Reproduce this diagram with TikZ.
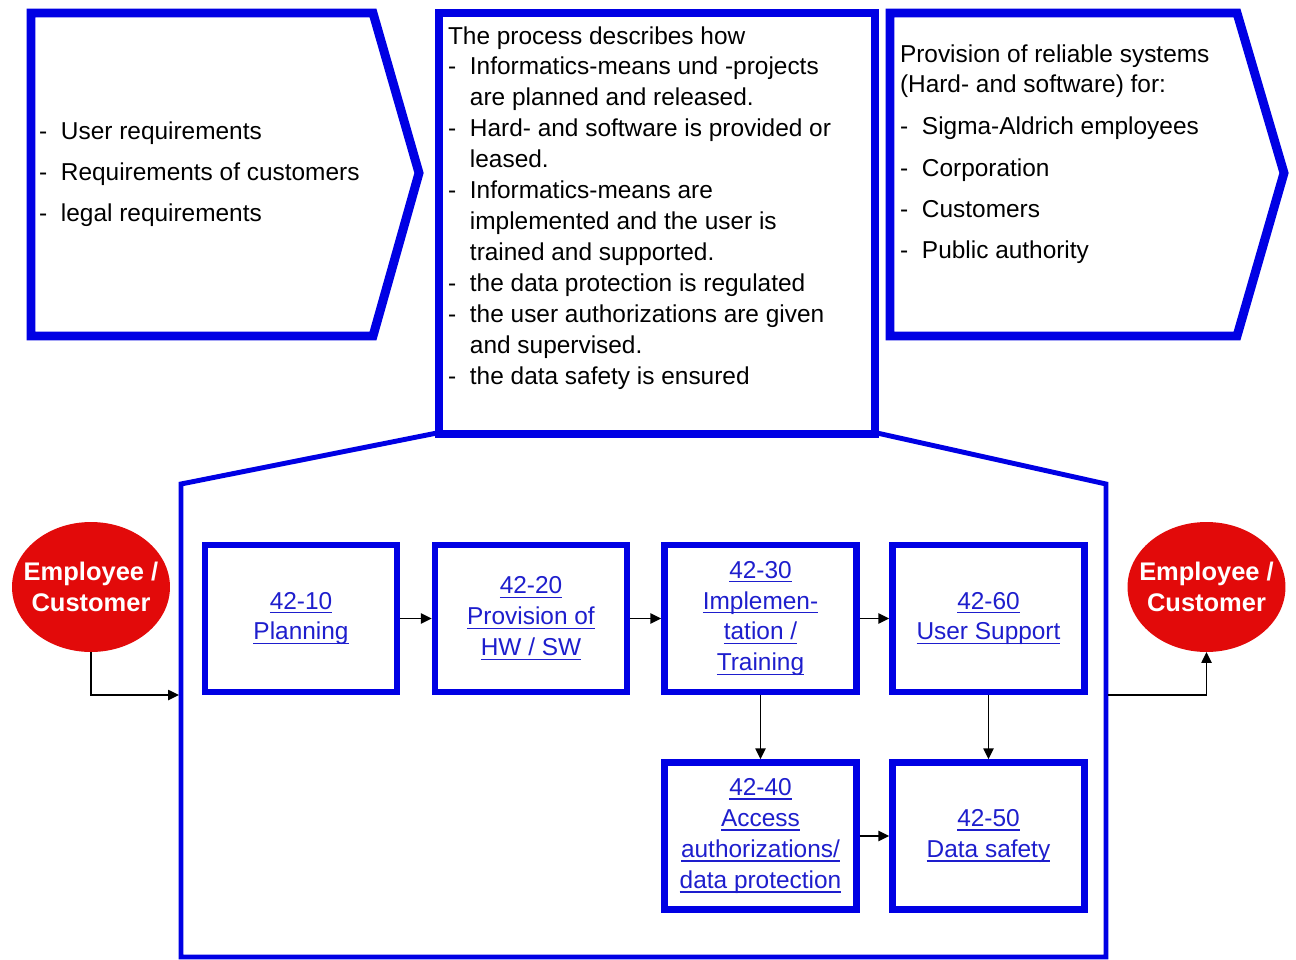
\documentclass[tikz,border=0pt]{standalone}
\usepackage{fontspec}
\setmainfont{Liberation Sans}
\usetikzlibrary{shapes.geometric,arrows.meta}

\definecolor{frameblue}{RGB}{0,0,228}
\definecolor{linkblue}{RGB}{30,30,205}
\definecolor{actorred}{RGB}{226,10,10}

% underlined hyperlink-like label line
\newsavebox\lnkbox
\newcommand\lnk[1]{\sbox\lnkbox{#1}\rlap{\rule[-2.4pt]{\wd\lnkbox}{0.8pt}}\usebox\lnkbox}
% bullet list lines with a hanging dash
\newcommand\bitem[1]{\makebox[12.5pt][l]{-}#1}
\newcommand\bcont[1]{\hspace*{12.5pt}#1}

\begin{document}
\begin{tikzpicture}[x=0.02cm,y=-0.02cm,
  line join=miter,
  topframe/.style={draw=frameblue, line width=5.1pt},
  houseframe/.style={draw=frameblue, line width=2.8pt},
  bodytext/.style={font=\fontsize{13.9pt}{17.6pt}\selectfont, anchor=base west, inner sep=0pt, outer sep=0pt},
  procbox/.style={draw=frameblue, line width=3.7pt, fill=white,
    minimum width=3.84cm, minimum height=2.94cm, inner sep=0pt,
    align=center, text=linkblue, font=\fontsize{13.9pt}{17.6pt}\selectfont},
  flow/.style={draw=black, line width=0.9pt, -{Triangle[length=6.2pt,width=5.8pt]}},
  actor/.style={ellipse, fill=actorred, minimum width=3.16cm, minimum height=2.6cm, inner sep=0pt, outer sep=0pt},
  actortext/.style={text=white, align=center, inner sep=0pt,
    font=\fontsize{14.5pt}{17.6pt}\selectfont\bfseries}
]
\useasboundingbox (0,0) rectangle (1296,960);
\fill[white] (0,0) rectangle (1296,960);

% process frame (house shape) below the description box
\draw[houseframe] (181,957) -- (181,484) -- (437,433) -- (877,433)
  -- (1106,484) -- (1106,957) -- cycle;

% input arrow shape
\draw[topframe] (31,13) -- (373,13) -- (419,173) -- (373,336) -- (31,336) -- cycle;
% process description box
\draw[topframe] (439,13) rectangle (875,434);
% output arrow shape
\draw[topframe] (890,13) -- (1237,13) -- (1284,173) -- (1237,336) -- (890,336) -- cycle;

\node[bodytext] (inputs) at (39,139) {\begin{tabular}[t]{@{}l@{}}
  \bitem{User requirements}\\[5.9pt]
  \bitem{Requirements of customers}\\[5.9pt]
  \bitem{legal requirements}
\end{tabular}};

\node[bodytext] (procdesc) at (448,44) {\begin{tabular}[t]{@{}l@{}}
  The process describes how\\
  \bitem{Informatics-means und -projects}\\
  \bcont{are planned and released.}\\
  \bitem{Hard- and software is provided or}\\
  \bcont{leased.}\\
  \bitem{Informatics-means are}\\
  \bcont{implemented and the user is}\\
  \bcont{trained and supported.}\\
  \bitem{the data protection is regulated}\\
  \bitem{the user authorizations are given}\\
  \bcont{and supervised.}\\
  \bitem{the data safety is ensured}
\end{tabular}};

\node[bodytext] (outputs) at (900,62) {\begin{tabular}[t]{@{}l@{}}
  Provision of reliable systems\\
  (Hard- and software) for:\\[6.2pt]
  \bitem{Sigma-Aldrich employees}\\[5.9pt]
  \bitem{Corporation}\\[5.9pt]
  \bitem{Customers}\\[5.9pt]
  \bitem{Public authority}
\end{tabular}};

% sub-processes
\node[procbox] (p10) at (301,618.5) {\lnk{42-10}\\\lnk{Planning}};
\node[procbox] (p20) at (531,618.5) {\lnk{42-20}\\\lnk{Provision of}\\\lnk{HW / SW}};
\node[procbox] (p30) at (760.5,618.5) {\lnk{42-30}\\\lnk{Implemen-}\\\lnk{tation /}\\\lnk{Training}};
\node[procbox] (p60) at (988.5,618.5) {\lnk{42-60}\\\lnk{User Support}};
\node[procbox] (p40) at (760.5,836) {\lnk{42-40}\\\lnk{Access}\\\lnk{authorizations/}\\\lnk{data protection}};
\node[procbox] (p50) at (988.5,836) {\lnk{42-50}\\\lnk{Data safety}};

\draw[flow] (p10) -- (p20);
\draw[flow] (p20) -- (p30);
\draw[flow] (p30) -- (p60);
\draw[flow] (p30) -- (p40);
\draw[flow] (p60) -- (p50);
\draw[flow] (p40) -- (p50);

% customers at both ends
\node[actor] (srcactor) at (91,587) {};
\node[actortext] (srclabel) at (srcactor.center) {Employee /\\Customer};
\node[actor] (dstactor) at (1206.5,587) {};
\node[actortext] (dstlabel) at (dstactor.center) {Employee /\\Customer};

\coordinate (housein) at (179,695);
\coordinate (houseout) at (1108,695);
\draw[flow] (srcactor.south) |- (housein);
\draw[flow] (houseout) -| (dstactor.south);
\end{tikzpicture}
\end{document}
